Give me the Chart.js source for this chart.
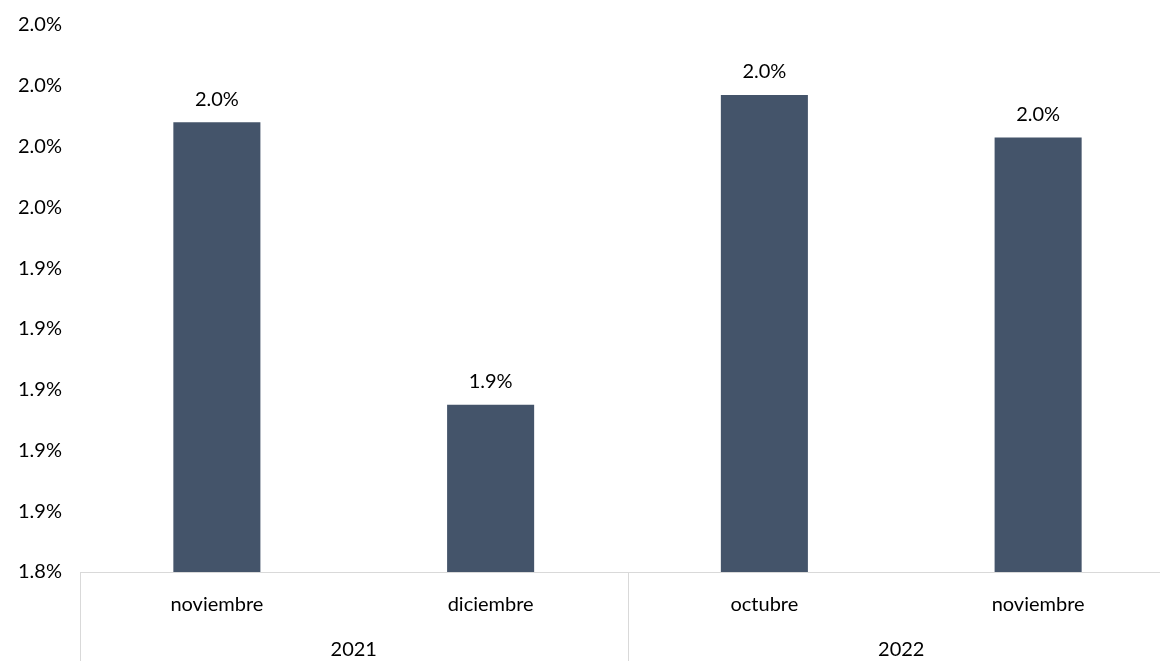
<!DOCTYPE html>
<html>
<head>
<meta charset="utf-8">
<script src="https://cdn.jsdelivr.net/npm/chart.js@4.4.1/dist/chart.umd.min.js"></script>
<style>
  html, body { margin: 0; padding: 0; background: #fff; overflow: hidden; }
  #wrap { width: 1175px; height: 661px; }
</style>
</head>
<body>
<div id="wrap"><canvas id="chart" width="1175" height="661"></canvas></div>
<script>
const meses = ['noviembre', 'diciembre', 'octubre', 'noviembre'];
const anios = ['2021', '2022'];
const grupoAnio = [0, 0, 1, 1];
const valores = [1.988, 1.895, 1.997, 1.983];

const yMin = 1.84;
const yMax = 2.02;
const yStep = 0.02;

const FONT = 'Lato, "Liberation Sans Narrow", sans-serif';
const SIZE = 20;
const TEXT = '#000000';
const LINE = '#d9d9d9';

const pct = v => v.toFixed(1) + '%';

// etiquetas encima de cada barra
const etiquetasBarras = {
  id: 'etiquetasBarras',
  afterDatasetsDraw(chart) {
    const ctx = chart.ctx;
    const meta = chart.getDatasetMeta(0);
    ctx.save();
    ctx.font = SIZE + 'px ' + FONT;
    ctx.fillStyle = TEXT;
    ctx.textAlign = 'center';
    ctx.textBaseline = 'middle';
    meta.data.forEach((bar, i) => {
      ctx.fillText(pct(valores[i]), bar.x, bar.y - 23);
    });
    ctx.restore();
  }
};

// segundo nivel del eje x: años y separadores
const ejeAnios = {
  id: 'ejeAnios',
  afterDraw(chart) {
    const ctx = chart.ctx;
    const x = chart.scales.x;
    const area = chart.chartArea;
    const paso = x.getPixelForValue(1) - x.getPixelForValue(0);
    ctx.save();
    ctx.strokeStyle = LINE;
    ctx.lineWidth = 1;
    ctx.font = SIZE + 'px ' + FONT;
    ctx.fillStyle = TEXT;
    ctx.textAlign = 'center';
    ctx.textBaseline = 'middle';
    anios.forEach((anio, g) => {
      const idx = grupoAnio.map((v, i) => v === g ? i : -1).filter(i => i >= 0);
      const x0 = x.getPixelForValue(idx[0]) - paso / 2;
      const x1 = x.getPixelForValue(idx[idx.length - 1]) + paso / 2;
      [x0, x1].forEach(px => {
        const p = Math.round(px) + 0.5;
        ctx.beginPath();
        ctx.moveTo(p, area.bottom);
        ctx.lineTo(p, chart.height);
        ctx.stroke();
      });
      ctx.fillText(anio, (x0 + x1) / 2, 650);
    });
    ctx.restore();
  }
};

new Chart(document.getElementById('chart'), {
  type: 'bar',
  data: {
    labels: meses,
    datasets: [{
      data: valores,
      backgroundColor: '#44546a',
      barPercentage: 1,
      categoryPercentage: 0.318
    }]
  },
  options: {
    responsive: false,
    animation: false,
    layout: { padding: { top: 25, right: 0, left: 18, bottom: 0 } },
    plugins: { legend: { display: false }, tooltip: { enabled: false } },
    scales: {
      y: {
        min: yMin,
        max: yMax,
        afterFit: s => { s.width = 62; },
        grid: { display: false, drawTicks: false },
        border: { display: false },
        ticks: {
          stepSize: yStep,
          padding: 0,
          crossAlign: 'far',
          color: TEXT,
          font: { family: FONT, size: SIZE },
          callback: v => pct(v)
        }
      },
      x: {
        afterFit: s => { s.height = 89; },
        grid: { display: false, drawTicks: false },
        border: { display: true, color: LINE, width: 1 },
        ticks: {
          padding: 21,
          color: TEXT,
          font: { family: FONT, size: SIZE }
        }
      }
    }
  },
  plugins: [etiquetasBarras, ejeAnios]
});
</script>
</body>
</html>
